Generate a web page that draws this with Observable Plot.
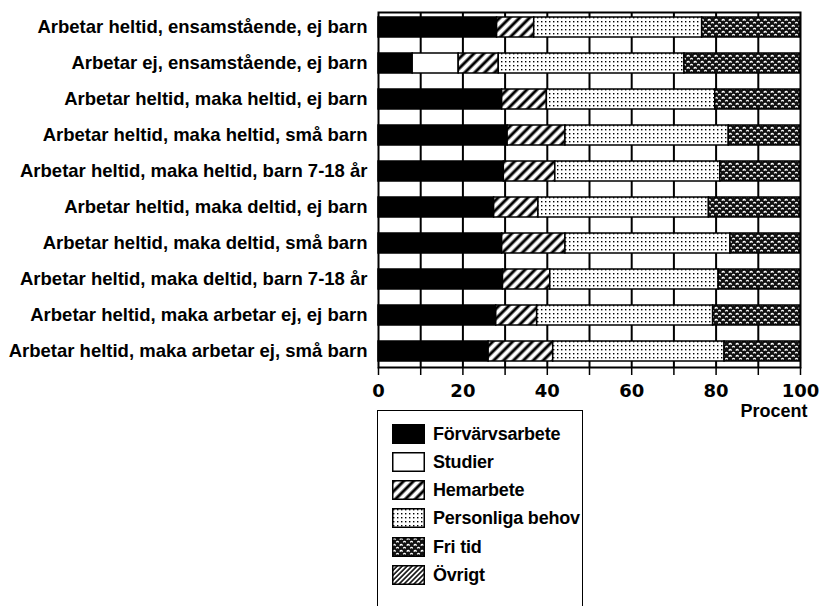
<!DOCTYPE html>
<html>
<head>
<meta charset="utf-8">
<script src="https://cdn.jsdelivr.net/npm/d3@7"></script>
<script src="https://cdn.jsdelivr.net/npm/@observablehq/plot@0.6"></script>
<style>
  html, body { margin: 0; padding: 0; background: #fff; }
  #wrap { position: relative; width: 820px; height: 606px; overflow: hidden; font-family: "Liberation Sans", Arial, sans-serif; }
  #legend { position: absolute; left: 377px; top: 410px; width: 204px; height: 210px;
            border-left: 1.5px solid #000; border-top: 1.5px solid #000; border-right: 1.5px solid #000; }
  .row { position: absolute; left: 14px; height: 20px; display: flex; align-items: center; }
  .row span { margin-left: 8px; font-size: 18px; font-weight: bold; color: #000; white-space: nowrap; letter-spacing: -0.2px; }
</style>
</head>
<body>
<svg width="0" height="0" style="position:absolute">
  <defs>
    <pattern id="p-hatch" patternUnits="userSpaceOnUse" width="7" height="7" patternTransform="rotate(45)">
      <rect width="7" height="7" fill="#fff"/>
      <line x1="2" y1="0" x2="2" y2="7" stroke="#000" stroke-width="3"/>
    </pattern>
    <pattern id="p-dots" patternUnits="userSpaceOnUse" width="4" height="4">
      <rect width="4" height="4" fill="#fff"/>
      <rect x="1" y="1" width="1.4" height="1.4" fill="#000"/>
    </pattern>
    <pattern id="p-fri" patternUnits="userSpaceOnUse" width="7" height="6">
      <rect width="7" height="6" fill="#111"/>
      <path d="M0.8,2.6 Q2.2,0.4 3.6,2.6" stroke="#fff" stroke-width="1.3" fill="none"/>
      <path d="M4.3,5.4 Q5.6,3.2 6.8,5.4" stroke="#fff" stroke-width="1.3" fill="none"/>
    </pattern>
    <pattern id="p-ovr" patternUnits="userSpaceOnUse" width="3.5" height="3.5" patternTransform="rotate(45)">
      <rect width="3.5" height="3.5" fill="#fff"/>
      <line x1="1" y1="0" x2="1" y2="3.5" stroke="#000" stroke-width="1.6"/>
    </pattern>
  </defs>
</svg>
<div id="wrap"></div>
<script>
const categories = [
  "Arbetar heltid, ensamstående, ej barn",
  "Arbetar ej, ensamstående, ej barn",
  "Arbetar heltid, maka heltid, ej barn",
  "Arbetar heltid, maka heltid, små barn",
  "Arbetar heltid, maka heltid, barn 7-18 år",
  "Arbetar heltid, maka deltid, ej barn",
  "Arbetar heltid, maka deltid, små barn",
  "Arbetar heltid, maka deltid, barn 7-18 år",
  "Arbetar heltid, maka arbetar ej, ej barn",
  "Arbetar heltid, maka arbetar ej, små barn"
];
const seriesNames = ["Förvärvsarbete", "Studier", "Hemarbete", "Personliga behov", "Fri tid", "Övrigt"];
const forvarvsarbete = [28.1, 8.1, 29.3, 30.6, 29.7, 27.4, 29.3, 29.5, 27.9, 26.1];
const studier        = [0, 10.9, 0, 0, 0, 0, 0, 0, 0, 0];
const hemarbete      = [8.8, 9.5, 10.6, 13.7, 12.2, 10.5, 15.0, 11.2, 9.7, 15.3];
const personligaBehov= [39.8, 44.0, 39.9, 38.7, 39.1, 40.4, 39.1, 39.9, 41.7, 40.6];
const friTid         = [23.3, 27.5, 20.2, 17.0, 19.0, 21.7, 16.6, 19.4, 20.7, 18.0];
const ovrigt         = [0, 0, 0, 0, 0, 0, 0, 0, 0, 0];
const xTicks = [0, 10, 20, 30, 40, 50, 60, 70, 80, 90, 100];
const xTickLabels = ["0", "", "20", "", "40", "", "60", "", "80", "", "100"];
const gridValues = [10, 20, 30, 40, 50, 60, 70, 80, 90];
const xLabel = "Procent";

const seriesValues = [forvarvsarbete, studier, hemarbete, personligaBehov, friTid, ovrigt];
const fills = {
  "Förvärvsarbete": "#000",
  "Studier": "#fff",
  "Hemarbete": "url(#p-hatch)",
  "Personliga behov": "url(#p-dots)",
  "Fri tid": "url(#p-fri)",
  "Övrigt": "url(#p-ovr)"
};

const data = [];
seriesNames.forEach((s, i) => {
  categories.forEach((c, j) => {
    const v = seriesValues[i][j];
    if (v > 0) data.push({category: c, series: s, value: v});
  });
});

const chart = Plot.plot({
  width: 820,
  height: 430,
  marginLeft: 378,
  marginRight: 20,
  marginTop: 12,
  marginBottom: 63,
  style: {fontFamily: "'Liberation Sans', Arial, sans-serif", fontSize: "18px", fontWeight: "bold", color: "#000", background: "#fff", overflow: "visible"},
  x: {domain: [0, 100]},
  y: {domain: categories, paddingInner: 0.44, paddingOuter: 0.15},
  color: {type: "identity"},
  marks: [
    Plot.ruleX(gridValues, {stroke: "#000", strokeWidth: 2}),
    Plot.barX(data, Plot.stackX({
      x: "value", y: "category", z: "series", order: seriesNames,
      fill: d => fills[d.series], stroke: "#000", strokeWidth: 1.5
    })),
    Plot.frame({stroke: "#000", strokeWidth: 2}),
    Plot.axisX({
      ticks: xTicks,
      tickFormat: d => xTickLabels[xTicks.indexOf(d)],
      tickSize: 8, tickPadding: 9, strokeWidth: 1.5,
      fontSize: 18, fontFamily: "'DejaVu Sans', sans-serif", label: null
    }),
    Plot.text([xLabel], {frameAnchor: "bottom-right", textAnchor: "end", dx: 7, dy: 49, fontSize: 18, fontWeight: "bold"}),
    Plot.axisY({tickSize: 0, tickPadding: 11, label: null, fontSize: 18.5, letterSpacing: -0.2})
  ]
});
document.getElementById("wrap").appendChild(chart);

const legend = document.createElement("div");
legend.id = "legend";
const rowTops = [13, 41, 69, 97, 126, 154];
seriesNames.forEach((s, i) => {
  const row = document.createElement("div");
  row.className = "row";
  row.style.top = rowTops[i] + "px";
  row.innerHTML = `<svg width="33" height="20"><rect x="0.75" y="0.75" width="31.5" height="18.5" fill="${fills[s]}" stroke="#000" stroke-width="1.5"/></svg><span>${s}</span>`;
  legend.appendChild(row);
});
document.getElementById("wrap").appendChild(legend);
</script>
</body>
</html>
